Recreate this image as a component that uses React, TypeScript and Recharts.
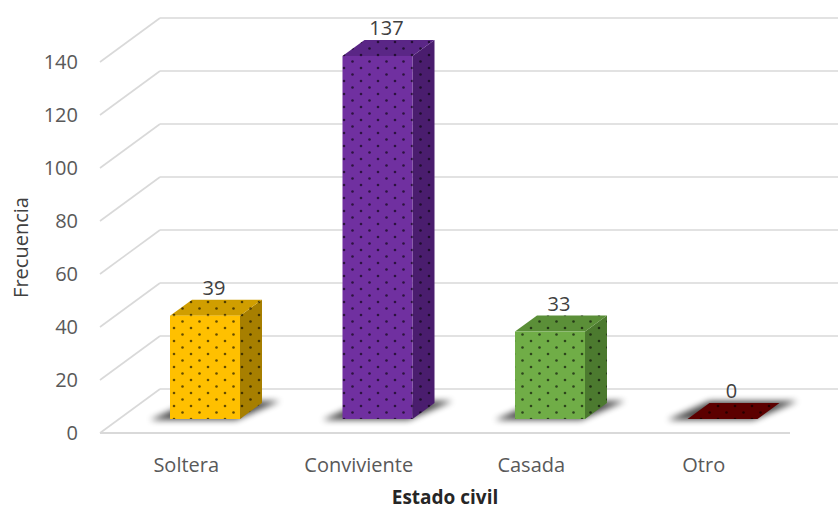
import React from 'react'
import { BarChart, Bar, XAxis, YAxis, CartesianGrid, LabelList, Label } from 'recharts'

const categories = ['Soltera', 'Conviviente', 'Casada', 'Otro']
const frecuencias = [39, 137, 33, 0]
const yTicks = [0, 20, 40, 60, 80, 100, 120, 140]

// front / top / side shades for each box
const faceColors = [
  { front: '#FFC000', top: '#D09E00', side: '#A77F00' },
  { front: '#7030A0', top: '#5A2686', side: '#4A1D6E' },
  { front: '#70AD47', top: '#5B8F38', side: '#4C7A2F' },
  { front: '#6B0000', top: '#5C0000', side: '#4A0000' },
]

const data = categories.map((name, i) => ({ name, value: frecuencias[i] }))

const FONT = '"Open Sans", sans-serif'
const GRID = '#d9d9d9'

// perspective offsets (px): back wall, box front face, box depth
const WALL_DX = 60
const WALL_DY = -44
const FACE_DX = 19
const FACE_DY = -14
const DEPTH_DX = 22
const DEPTH_DY = -16

const pts = (p: number[][]) => p.map(q => q.join(',')).join(' ')

const Box3D = (props: any) => {
  const { x, y, width: w, height: h, index, payload } = props
  const i = typeof index === 'number' ? index : categories.indexOf(payload?.name)
  const c = faceColors[i] || faceColors[0]
  const fx = x + FACE_DX
  const fy = y + FACE_DY
  const base = fy + h

  const top = [
    [fx, fy],
    [fx + w, fy],
    [fx + w + DEPTH_DX, fy + DEPTH_DY],
    [fx + DEPTH_DX, fy + DEPTH_DY],
  ]
  const side = [
    [fx + w, fy],
    [fx + w + DEPTH_DX, fy + DEPTH_DY],
    [fx + w + DEPTH_DX, base + DEPTH_DY],
    [fx + w, base],
  ]
  const shadow = [
    [fx - 20, base + 1],
    [fx + w - 4, base + 1],
    [fx + w + DEPTH_DX + 18, base + DEPTH_DY - 2],
    [fx + DEPTH_DX, base + DEPTH_DY - 2],
  ]

  return (
    <g>
      <polygon points={pts(shadow)} fill="#000" opacity={0.7} filter="url(#floorBlur)" />
      {h > 0 && (
        <>
          <polygon points={pts(side)} fill={c.side} />
          <polygon points={pts(side)} fill="url(#dots)" />
        </>
      )}
      <polygon points={pts(top)} fill={c.top} />
      <polygon points={pts(top)} fill="url(#dots)" />
      {h > 0 && (
        <>
          <rect x={fx} y={fy} width={w} height={h} fill={c.front} />
          <rect x={fx} y={fy} width={w} height={h} fill="url(#dots)" />
        </>
      )}
    </g>
  )
}

// every horizontal grid line becomes a side-wall diagonal plus a back-wall line
const WallLine = (props: any) => {
  const { x1, y1, key } = props
  return (
    <g key={key}>
      <line x1={x1} y1={y1} x2={x1 + WALL_DX} y2={y1 + WALL_DY} stroke={GRID} strokeWidth={1.6} />
      <line x1={x1 + WALL_DX} y1={y1 + WALL_DY} x2={838} y2={y1 + WALL_DY} stroke={GRID} strokeWidth={1.6} />
    </g>
  )
}

const ValueLabel = (props: any) => {
  const { x, y, width, value } = props
  return (
    <text
      x={x + width / 2 + FACE_DX + 9}
      y={y + FACE_DY + DEPTH_DY - 5}
      textAnchor="middle"
      fontFamily={FONT}
      fontSize={20}
      fill="#404040"
    >
      {value}
    </text>
  )
}

const App = () => {
  return (
    <div style={{ position: 'fixed', left: 0, top: 0, width: 838, height: 510, background: '#fff' }}>
      <svg width={0} height={0} style={{ position: 'absolute' }}>
        <defs>
          <pattern id="dots" width={17} height={13} patternUnits="userSpaceOnUse">
            <circle cx={4} cy={3} r={1.3} fill="#000" opacity={0.6} />
            <circle cx={12.5} cy={9.5} r={1.3} fill="#000" opacity={0.6} />
          </pattern>
          <filter id="floorBlur" x="-30%" y="-100%" width="160%" height="300%">
            <feGaussianBlur stdDeviation={3} />
          </filter>
        </defs>
      </svg>
      <BarChart
        width={838}
        height={510}
        data={data}
        margin={{ top: 62, right: 48, bottom: 17, left: 30 }}
      >
        <CartesianGrid vertical={false} horizontal={WallLine} />
        <XAxis
          dataKey="name"
          height={60}
          axisLine={{ stroke: GRID, strokeWidth: 2 }}
          tickLine={false}
          tickSize={0}
          tickMargin={25}
          tick={{ fontFamily: FONT, fontSize: 20, fill: '#595959' }}
        >
          <Label
            content={(p: any) => (
              <text
                x={p.viewBox.x + p.viewBox.width / 2}
                y={p.viewBox.y + 71}
                textAnchor="middle"
                fontFamily={FONT}
                fontSize={19}
                fontWeight="bold"
                fill="#262626"
              >
                Estado civil
              </text>
            )}
          />
        </XAxis>
        <YAxis
          width={70}
          domain={[0, 140]}
          ticks={yTicks}
          axisLine={false}
          tickLine={false}
          tickSize={0}
          tickMargin={22}
          tick={{ fontFamily: FONT, fontSize: 20, fill: '#595959' }}
        >
          <Label
            content={(p: any) => {
              const cx = p.viewBox.x - 10
              const cy = p.viewBox.y + p.viewBox.height / 2
              return (
                <text
                  x={cx}
                  y={cy}
                  transform={`rotate(-90 ${cx} ${cy})`}
                  textAnchor="middle"
                  dominantBaseline="central"
                  fontFamily={FONT}
                  fontSize={20}
                  fill="#404040"
                >
                  Frecuencia
                </text>
              )
            }}
          />
        </YAxis>
        <Bar dataKey="value" barSize={70} shape={Box3D} isAnimationActive={false}>
          <LabelList dataKey="value" content={ValueLabel} />
        </Bar>
      </BarChart>
    </div>
  )
}

export default App
